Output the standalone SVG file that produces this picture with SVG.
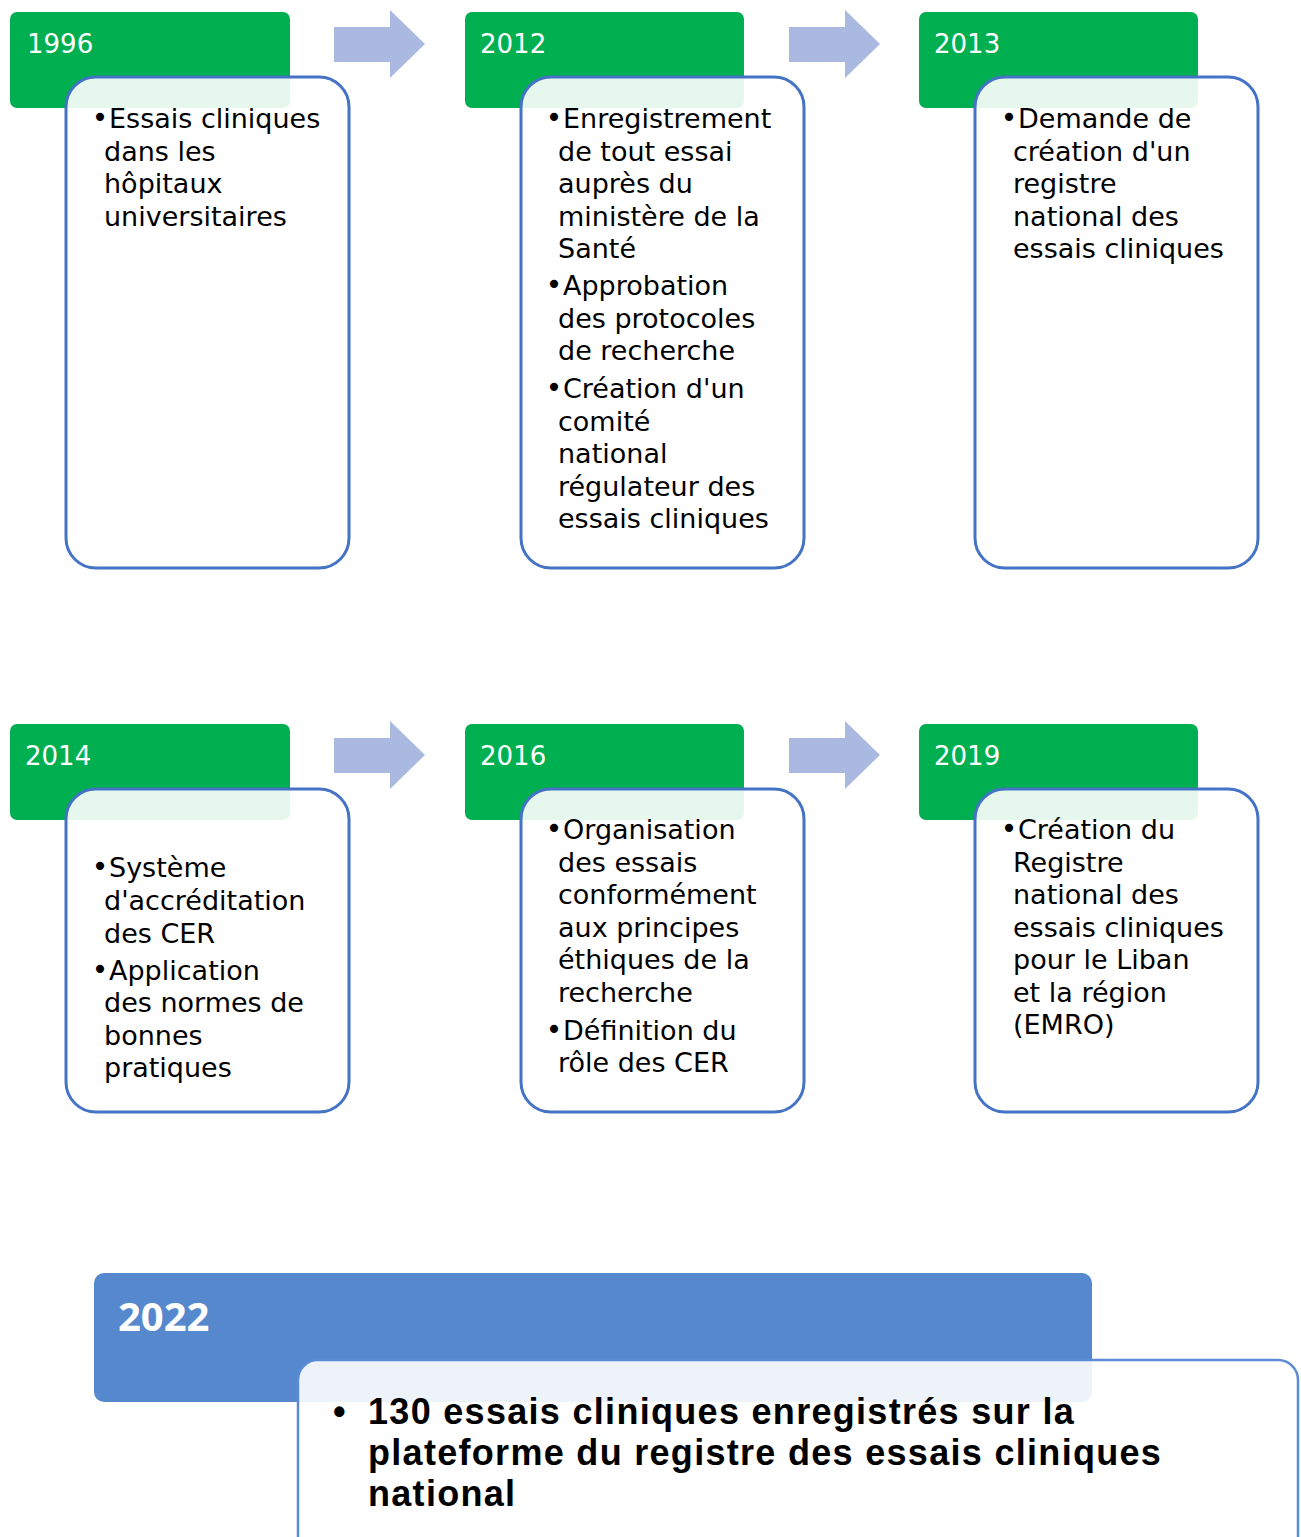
<svg xmlns="http://www.w3.org/2000/svg" width="1301" height="1537" viewBox="0 0 1301 1537">
<style>
.hdr{fill:#00B050}
.box{fill:#FFFFFF;fill-opacity:0.9;stroke:#4472C4;stroke-width:3}
.yr{font-family:"DejaVu Sans",sans-serif;font-size:26px;fill:#FFFFFF}
.body{font-family:"DejaVu Sans",sans-serif;font-size:27px;fill:#000000}
.bul{font-family:"DejaVu Sans",sans-serif;font-size:28px;fill:#000000;text-anchor:middle}
.arr{fill:#AAB9DF}
.hdr2{fill:#5588CC}
.box2{fill:#FFFFFF;fill-opacity:0.9;stroke:#5B8BD5;stroke-width:2.5}
.yr2{font-family:"Open Sans",sans-serif;font-size:40px;font-weight:700;fill:#FFFFFF}
.body2{font-family:"Liberation Sans",Arial,sans-serif;font-size:36px;font-weight:700;letter-spacing:1.3px;fill:#000000}
</style>
<rect width="1301" height="1537" fill="#FFFFFF"/>
<g id="connectors">
<path class="arr" d="M334,27 H390 V10 L425,44 L390,78 V62 H334 Z"/>
<path class="arr" d="M789,27 H845 V10 L880,44 L845,78 V62 H789 Z"/>
<path class="arr" d="M334,738 H390 V721 L425,755 L390,789 V773 H334 Z"/>
<path class="arr" d="M789,738 H845 V721 L880,755 L845,789 V773 H789 Z"/>
</g>
<g id="n1996">
<rect class="hdr" x="10" y="12" width="280" height="96" rx="7"/>
<text class="yr" x="27" y="53">1996</text>
<rect class="box" x="66" y="77" width="283" height="491" rx="30"/>
<text class="bul" x="100" y="127">•</text>
<text class="body"><tspan x="109" y="128">Essais cliniques</tspan><tspan x="104" y="160.5">dans les</tspan><tspan x="104" y="193">hôpitaux</tspan><tspan x="104" y="225.5">universitaires</tspan></text>
</g>
<g id="n2012">
<rect class="hdr" x="465" y="12" width="279" height="96" rx="7"/>
<text class="yr" x="480" y="53">2012</text>
<rect class="box" x="521" y="77" width="283" height="491" rx="30"/>
<text class="bul" x="554" y="127">•</text>
<text class="bul" x="554" y="294">•</text>
<text class="bul" x="554" y="397">•</text>
<text class="body"><tspan x="563" y="128">Enregistrement</tspan><tspan x="558" y="160.5">de tout essai</tspan><tspan x="558" y="193">auprès du</tspan><tspan x="558" y="225.5">ministère de la</tspan><tspan x="558" y="258">Santé</tspan><tspan x="563" y="295">Approbation</tspan><tspan x="558" y="327.5">des protocoles</tspan><tspan x="558" y="360">de recherche</tspan><tspan x="563" y="398">Création d'un</tspan><tspan x="558" y="430.5">comité</tspan><tspan x="558" y="463">national</tspan><tspan x="558" y="495.5">régulateur des</tspan><tspan x="558" y="528">essais cliniques</tspan></text>
</g>
<g id="n2013">
<rect class="hdr" x="919" y="12" width="279" height="96" rx="7"/>
<text class="yr" x="934" y="53">2013</text>
<rect class="box" x="975" y="77" width="283" height="491" rx="30"/>
<text class="bul" x="1009" y="127">•</text>
<text class="body"><tspan x="1018" y="128">Demande de</tspan><tspan x="1013" y="160.5">création d'un</tspan><tspan x="1013" y="193">registre</tspan><tspan x="1013" y="225.5">national des</tspan><tspan x="1013" y="258">essais cliniques</tspan></text>
</g>
<g id="n2014">
<rect class="hdr" x="10" y="724" width="280" height="96" rx="7"/>
<text class="yr" x="25" y="765">2014</text>
<rect class="box" x="66" y="789" width="283" height="323" rx="30"/>
<text class="bul" x="100" y="876">•</text>
<text class="bul" x="100" y="979">•</text>
<text class="body"><tspan x="109" y="877">Système</tspan><tspan x="104" y="910">d'accréditation</tspan><tspan x="104" y="943">des CER</tspan><tspan x="109" y="980">Application</tspan><tspan x="104" y="1012">des normes de</tspan><tspan x="104" y="1045">bonnes</tspan><tspan x="104" y="1077">pratiques</tspan></text>
</g>
<g id="n2016">
<rect class="hdr" x="465" y="724" width="279" height="96" rx="7"/>
<text class="yr" x="480" y="765">2016</text>
<rect class="box" x="521" y="789" width="283" height="323" rx="30"/>
<text class="bul" x="554" y="838">•</text>
<text class="bul" x="554" y="1039">•</text>
<text class="body"><tspan x="563" y="839">Organisation</tspan><tspan x="558" y="872">des essais</tspan><tspan x="558" y="904">conformément</tspan><tspan x="558" y="937">aux principes</tspan><tspan x="558" y="969">éthiques de la</tspan><tspan x="558" y="1002">recherche</tspan><tspan x="563" y="1040">Définition du</tspan><tspan x="558" y="1072">rôle des CER</tspan></text>
</g>
<g id="n2019">
<rect class="hdr" x="919" y="724" width="279" height="96" rx="7"/>
<text class="yr" x="934" y="765">2019</text>
<rect class="box" x="975" y="789" width="283" height="323" rx="30"/>
<text class="bul" x="1009" y="838">•</text>
<text class="body"><tspan x="1018" y="839">Création du</tspan><tspan x="1013" y="872">Registre</tspan><tspan x="1013" y="904">national des</tspan><tspan x="1013" y="937">essais cliniques</tspan><tspan x="1013" y="969">pour le Liban</tspan><tspan x="1013" y="1002">et la région</tspan><tspan x="1013" y="1034">(EMRO)</tspan></text>
</g>
<g id="n2022">
<rect class="hdr2" x="94" y="1273" width="998" height="129" rx="10"/>
<text class="yr2" x="118" y="1331">2022</text>
<rect class="box2" x="298" y="1360" width="1000" height="200" rx="20"/>
<text class="body2" x="333" y="1424">•</text>
<text class="body2"><tspan x="368" y="1424">130 essais cliniques enregistrés sur la</tspan><tspan x="368" y="1465">plateforme du registre des essais cliniques</tspan><tspan x="368" y="1506">national</tspan></text>
</g>
</svg>
